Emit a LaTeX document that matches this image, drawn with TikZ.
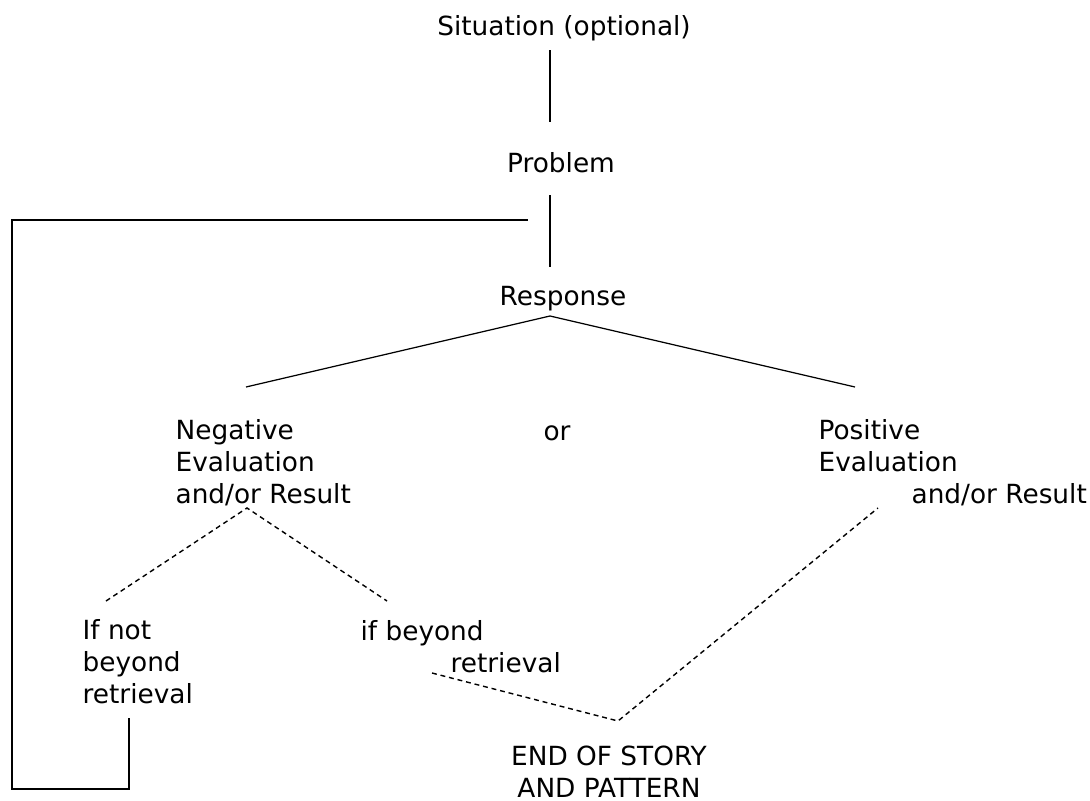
\documentclass[tikz,border=0pt]{standalone}
\usepackage{fontspec}
\setmainfont{DejaVu Sans}
\usepackage{tikz}
\usepackage{xcolor}
\newcommand{\Stem}{550}
\newcommand{\Fork}{316}
\newcommand{\Loop}{12}

\begin{document}
\begin{tikzpicture}[x=0.02cm,y=-0.02cm,line width=0.7pt,
		label/.style={inner sep=0pt,font=\fontsize{15pt}{18pt}\selectfont},
		maybe/.style={line width=0.8pt,dash pattern=on 2.8pt off 2.2pt}]
		\useasboundingbox (0,0) rectangle (1090,801);

		\node[label,anchor=base] (sit) at (564,35) {Situation (optional)};
		\node[label,anchor=base] (prob) at (561,172) {Problem};
		\node[label,anchor=base] (resp) at (563,305) {Response};
		\node[label,anchor=base west,align=left] (neg) at (175,503) {Negative\\Evaluation\\and/or Result};
		\node[label,anchor=base west] (or) at (543,440) {or};
		\node[label,anchor=base west,align=left] (pos) at (818,503) {Positive\\Evaluation\\\hspace*{1.86cm}and/or Result};
		\node[label,anchor=base west,align=left] (notbeyond) at (82,703) {If not\\beyond\\retrieval};
		\node[label,anchor=base west,align=left] (beyond) at (360,672) {if beyond\\\hspace*{1.8cm}retrieval};
		\node[label,anchor=base,align=center] (end) at (609,797) {END OF STORY\\AND PATTERN};

		\coordinate (S1) at (\Stem,50);
		\coordinate (S2) at (\Stem,122);
		\coordinate (P1) at (\Stem,195);
		\coordinate (P2) at (\Stem,267);
		\coordinate (R) at (\Stem,\Fork);
		\coordinate (RL) at (246,387);
		\coordinate (RR) at (855,387);
		\coordinate (N) at (247,508);
		\coordinate (NL) at (106,601);
		\coordinate (NR) at (387,601);
		\coordinate (B) at (432,673);
		\coordinate (E) at (618,721);
		\coordinate (PE) at (878,508);
		\coordinate (L1) at (129,718);
		\coordinate (L2) at (129,789);
		\coordinate (L3) at (\Loop,789);
		\coordinate (L4) at (\Loop,220);
		\coordinate (L5) at (528,220);

		\draw (S1) -- (S2);% Situation to Problem
		\draw (P1) -- (P2);% Problem to Response
		\draw (RL) -- (R) -- (RR);% the two outcomes
		\draw[maybe] (NL) -- (N) -- (NR);% retrieval or not
		\draw[maybe] (B) -- (E) -- (PE);% to the end
		\draw (L1) -- (L2) -- (L3) -- (L4) -- (L5);% back to a new response
	\end{tikzpicture}
\end{document}
